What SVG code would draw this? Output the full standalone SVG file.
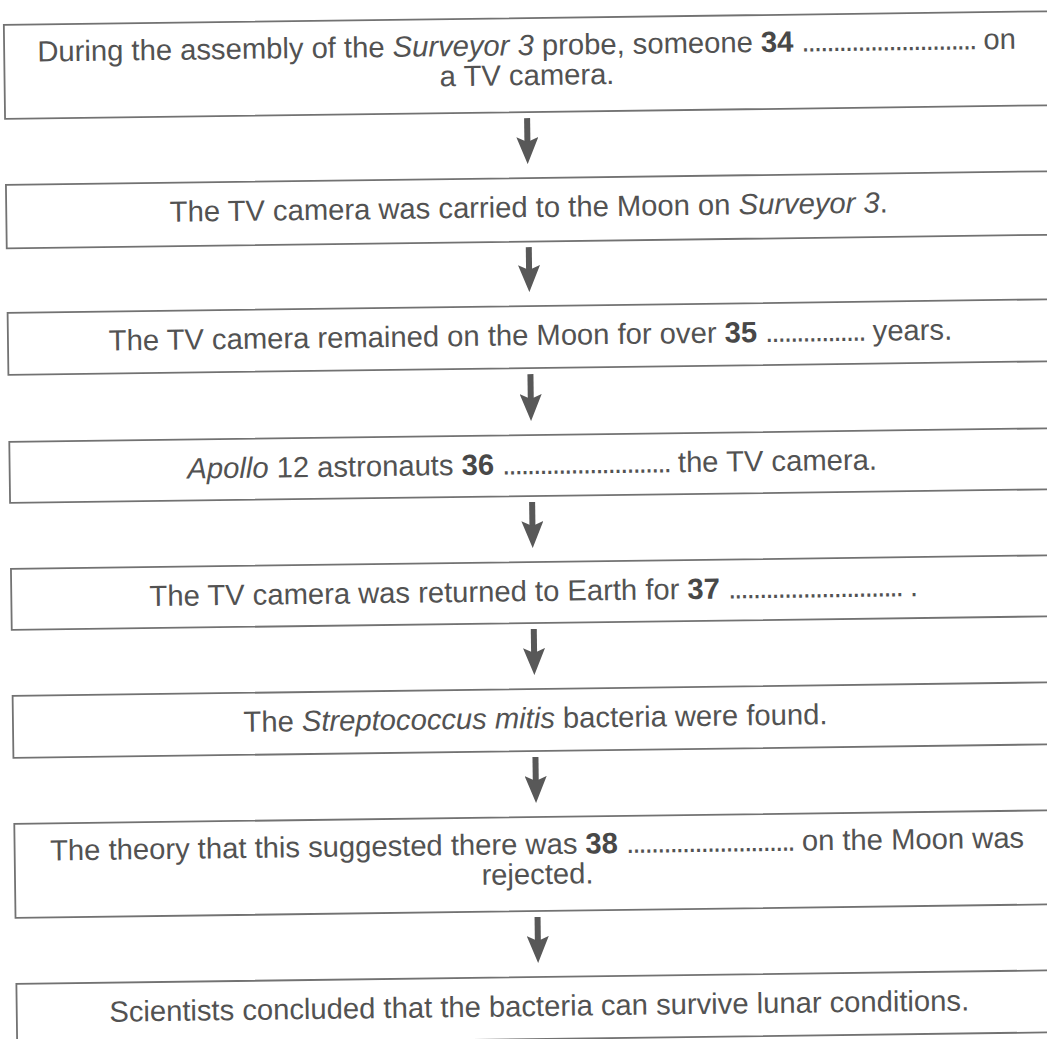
<svg xmlns="http://www.w3.org/2000/svg" width="1047" height="1039" viewBox="0 0 1047 1039">
<style>
.box{fill:#ffffff;stroke:#727272;stroke-width:1.8}
.t{font-family:"Liberation Sans",Arial,sans-serif;font-size:29.2px;fill:#525252;text-anchor:middle}
.b{font-weight:bold;fill:#484848}
.i{font-style:italic}
.d{letter-spacing:-1.9px}
.arr{stroke:#585858;stroke-width:6;fill:none;marker-end:url(#head)}
</style>
<defs>
<marker id="head" viewBox="0 0 27 22" markerWidth="27" markerHeight="22" refX="5" refY="11" orient="auto" markerUnits="userSpaceOnUse">
<path d="M0,0 L27,11 L0,22 L5,11 Z" fill="#585858"/>
</marker>
</defs>
<rect width="1047" height="1039" fill="#ffffff"/>
<g transform="rotate(-0.75)">
<g id="n1">
<rect class="box" x="3.5" y="25" width="1100" height="94"/>
<text class="t" x="526" y="62">During the assembly of the <tspan class="i">Surveyor 3</tspan> probe, someone <tspan class="b">34</tspan> <tspan class="d">............................</tspan> on</text>
<text class="t" x="526" y="92">a TV camera.</text>
</g>
<g id="n2">
<rect class="box" x="3.5" y="185" width="1100" height="63.5"/>
<text class="t" x="526" y="224">The TV camera was carried to the Moon on <tspan class="i">Surveyor 3</tspan>.</text>
</g>
<g id="n3">
<rect class="box" x="3.5" y="313" width="1100" height="62"/>
<text class="t" x="526" y="352">The TV camera remained on the Moon for over <tspan class="b">35</tspan> <tspan class="d">................</tspan> years.</text>
</g>
<g id="n4">
<rect class="box" x="3.5" y="442" width="1100" height="61"/>
<text class="t" x="526" y="481"><tspan class="i">Apollo</tspan> 12 astronauts <tspan class="b">36</tspan> <tspan class="d">...........................</tspan> the TV camera.</text>
</g>
<g id="n5">
<rect class="box" x="3.5" y="569" width="1100" height="61"/>
<text class="t" x="526" y="608">The TV camera was returned to Earth for <tspan class="b">37</tspan> <tspan class="d">............................</tspan> .</text>
</g>
<g id="n6">
<rect class="box" x="3.5" y="696" width="1100" height="62"/>
<text class="t" x="526" y="735">The <tspan class="i">Streptococcus mitis</tspan> bacteria were found.</text>
</g>
<g id="n7">
<rect class="box" x="3.5" y="824" width="1100" height="94"/>
<text class="t" x="526" y="861">The theory that this suggested there was <tspan class="b">38</tspan> <tspan class="d">...........................</tspan> on the Moon was</text>
<text class="t" x="526" y="891">rejected.</text>
</g>
<g id="n8">
<rect class="box" x="3.5" y="984" width="1100" height="62"/>
<text class="t" x="526" y="1023">Scientists concluded that the bacteria can survive lunar conditions.</text>
</g>
<g id="connectors">
<line class="arr" x1="525.5" y1="125" x2="525.5" y2="149"/>
<line class="arr" x1="525.5" y1="254" x2="525.5" y2="277"/>
<line class="arr" x1="525.5" y1="381" x2="525.5" y2="406"/>
<line class="arr" x1="525.5" y1="509" x2="525.5" y2="533"/>
<line class="arr" x1="525.5" y1="636" x2="525.5" y2="660"/>
<line class="arr" x1="525.5" y1="764" x2="525.5" y2="788"/>
<line class="arr" x1="525.5" y1="924" x2="525.5" y2="948"/>
</g>
</g>
</svg>
